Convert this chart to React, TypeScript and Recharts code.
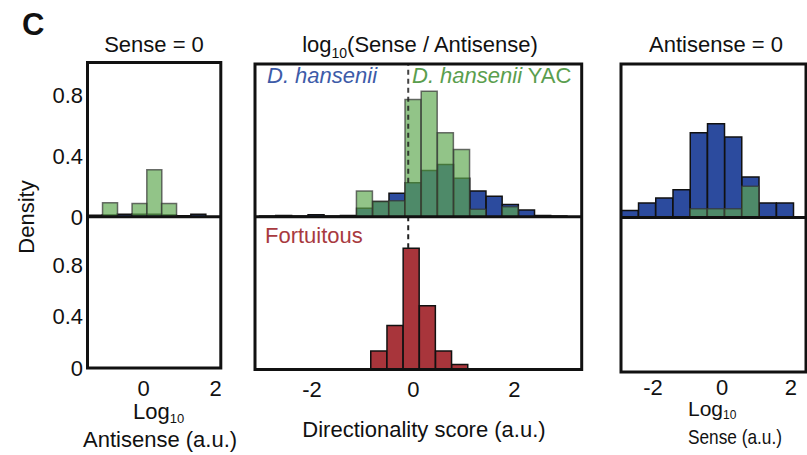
import { BarChart, Bar, XAxis, YAxis, ReferenceLine } from "recharts";

const FONT = '"Liberation Sans", Arial, Helvetica, sans-serif';
const BLUE = "#2c4b9e";
const GREEN = "#5fa850";
const RED = "#a8353b";
const INK = "#111";

// Sense = 0 panel (x = log10 antisense)
const leftBins = [-1.35, -0.94, -0.53, -0.12, 0.29, 0.7, 1.11, 1.52];
const leftWild = [0.012, 0.015, 0.02, 0.02, 0.02, 0.015, 0.01, 0.02];
const leftYac = [0, 0.095, 0, 0.09, 0.31, 0.09, 0, 0];

// log10(Sense / Antisense) panel
const midBins = [-2.88, -2.56, -2.24, -1.92, -1.6, -1.28, -0.96, -0.64, -0.32, 0, 0.32, 0.64, 0.96, 1.28, 1.6, 1.92, 2.24, 2.56, 2.88];
const midWild = [0.004, 0.008, 0.004, 0.012, 0.004, 0.008, 0.055, 0.1, 0.155, 0.225, 0.305, 0.345, 0.255, 0.17, 0.135, 0.08, 0.045, 0.008, 0.005];
const midYac = [0, 0, 0, 0, 0, 0, 0.17, 0.1, 0.105, 0.775, 0.83, 0.555, 0.445, 0.05, 0, 0.065, 0, 0, 0];
const fortBins = [-0.68, -0.36, -0.04, 0.28, 0.6, 0.92];
const fortValues = [0.144, 0.34, 0.93, 0.49, 0.144, 0.04];
const fortMedian = -0.1;

// Antisense = 0 panel (x = log10 sense)
const rightBins = [-2.67, -2.17, -1.67, -1.17, -0.67, -0.17, 0.33, 0.83, 1.33, 1.83];
const rightWild = [0.046, 0.095, 0.128, 0.183, 0.557, 0.617, 0.529, 0.267, 0.095, 0.095];
const rightYac = [0, 0, 0, 0, 0.057, 0.057, 0.057, 0.205, 0, 0];

const densityTicks = [0, 0.4, 0.8];

const leftRows = leftBins.map((x, i) => ({ x, wild: leftWild[i], yac: leftYac[i] }));
const midRows = midBins.map((x, i) => ({ x, wild: midWild[i], yac: midYac[i] }));
const fortRows = fortBins.map((x, i) => ({ x, fort: fortValues[i] }));
const rightRows = rightBins.map((x, i) => ({ x, wild: rightWild[i], yac: rightYac[i] }));

// median line only shows above the bar it sits on
const midUnderLine = midWild[midBins.indexOf(0)];
const fortUnderLine = fortValues[fortBins.indexOf(-0.04)];

type Geo = { x0: number; x1: number; top: number; mid: number; bot: number; dom: [number, number] };

const G_LEFT: Geo = { x0: 87.5, x1: 220.8, top: 62.5, mid: 216.7, bot: 368, dom: [-1.542, 2.161] };
const G_MID: Geo = { x0: 255, x1: 581.7, top: 64, mid: 216.7, bot: 369.5, dom: [-3.128, 3.328] };
const G_RIGHT: Geo = { x0: 621, x1: 806, top: 64, mid: 217.5, bot: 372, dom: [-2.928, 2.435] };

const TOP_MAX = 1.01;
const BOT_MAX = 1.17;

const tickStyle = { fontSize: 22, fill: INK, fontFamily: FONT };
const YW = 60;

function TopHalf({ g, rows, showY, dashed }: { g: Geo; rows: any[]; showY?: boolean; dashed?: boolean }) {
  const yw = showY ? YW : 0;
  const h = g.mid - g.top;
  return (
    <div style={{ position: "absolute", left: g.x0 - yw, top: g.top }}>
      <BarChart
        width={g.x1 - g.x0 + yw}
        height={h + 14}
        data={rows}
        margin={{ top: 0, right: 0, bottom: 14, left: 0 }}
        barCategoryGap={0}
        barGap="-100%"
      >
        <XAxis dataKey="x" type="number" domain={g.dom} hide allowDataOverflow />
        <YAxis
          type="number"
          domain={[0, TOP_MAX]}
          ticks={densityTicks}
          hide={!showY}
          width={yw}
          axisLine={false}
          tickLine={false}
          tickSize={0}
          tickMargin={5}
          tick={tickStyle}
          allowDataOverflow
        />
        <Bar dataKey="wild" fill={BLUE} stroke={INK} strokeWidth={1.5} isAnimationActive={false} />
        <Bar dataKey="yac" fill={GREEN} fillOpacity={0.68} stroke="#333" strokeOpacity={0.7} strokeWidth={1.5} isAnimationActive={false} />
        {dashed && (
          <ReferenceLine
            segment={[
              { x: fortMedian, y: midUnderLine },
              { x: fortMedian, y: TOP_MAX },
            ]}
            stroke="#222"
            strokeOpacity={0.85}
            strokeWidth={2}
            strokeDasharray="5 4"
          />
        )}
      </BarChart>
    </div>
  );
}

function BottomHalf({
  g,
  rows,
  xTicks,
  tickMargin,
  showY,
  children,
}: {
  g: Geo;
  rows: any[];
  xTicks: number[];
  tickMargin: number;
  showY?: boolean;
  children?: any;
}) {
  const yw = showY ? YW : 0;
  const h = g.bot - g.mid;
  return (
    <div style={{ position: "absolute", left: g.x0 - yw, top: g.mid }}>
      <BarChart
        width={g.x1 - g.x0 + yw}
        height={h + 40}
        data={rows}
        margin={{ top: 0, right: 0, bottom: 0, left: 0 }}
        barCategoryGap={0}
      >
        <XAxis
          dataKey="x"
          type="number"
          domain={g.dom}
          ticks={xTicks}
          height={40}
          axisLine={false}
          tickLine={false}
          tickSize={0}
          tickMargin={tickMargin}
          tick={tickStyle}
          allowDataOverflow
        />
        <YAxis
          type="number"
          domain={[0, BOT_MAX]}
          ticks={densityTicks}
          hide={!showY}
          width={yw}
          axisLine={false}
          tickLine={false}
          tickSize={0}
          tickMargin={5}
          tick={tickStyle}
          allowDataOverflow
        />
        {children}
      </BarChart>
    </div>
  );
}

function frame(g: Geo) {
  return (
    <g fill="none" stroke={INK} strokeWidth={3}>
      <rect x={g.x0} y={g.top} width={g.x1 - g.x0} height={g.bot - g.top} />
      <line x1={g.x0} x2={g.x1} y1={g.mid} y2={g.mid} />
    </g>
  );
}

export default function App() {
  return (
    <div
      style={{
        position: "absolute",
        left: 0,
        top: 0,
        width: 807,
        height: 455,
        background: "#fff",
        overflow: "hidden",
        fontFamily: FONT,
      }}
    >
      <TopHalf g={G_LEFT} rows={leftRows} showY />
      <BottomHalf g={G_LEFT} rows={leftRows} xTicks={[0, 2]} tickMargin={12} showY />

      <TopHalf g={G_MID} rows={midRows} dashed />
      <BottomHalf g={G_MID} rows={fortRows} xTicks={[-2, 0, 2]} tickMargin={12}>
        <Bar dataKey="fort" fill={RED} stroke={INK} strokeWidth={1.5} isAnimationActive={false} />
        <ReferenceLine
          segment={[
            { x: fortMedian, y: fortUnderLine },
            { x: fortMedian, y: BOT_MAX },
          ]}
          stroke="#222"
          strokeWidth={2}
          strokeDasharray="5 4"
        />
      </BottomHalf>

      <TopHalf g={G_RIGHT} rows={rightRows} />
      <BottomHalf g={G_RIGHT} rows={rightRows} xTicks={[-2, 0, 2]} tickMargin={7} />

      <svg
        width={807}
        height={455}
        style={{ position: "absolute", left: 0, top: 0, pointerEvents: "none" }}
        fontFamily={FONT}
        fill={INK}
      >
        {frame(G_LEFT)}
        {frame(G_MID)}
        {frame(G_RIGHT)}

        <text x={22} y={35} fontSize={31} fontWeight="bold">C</text>

        <text x={154} y={52} fontSize={22} textAnchor="middle">Sense = 0</text>
        <text x={420} y={52} fontSize={22} textAnchor="middle">
          log<tspan fontSize={14} dy={6}>10</tspan>
          <tspan dy={-6}>(Sense / Antisense)</tspan>
        </text>
        <text x={716} y={52} fontSize={22} textAnchor="middle">Antisense = 0</text>

        <text x={34} y={217} fontSize={22} textAnchor="middle" transform="rotate(-90 34 217)">Density</text>

        <text x={267} y={83} fontSize={22} fill="#3d5ba8" fontStyle="italic">D. hansenii</text>
        <text x={412} y={83} fontSize={22} fill="#5a9e4e">
          <tspan fontStyle="italic">D. hansenii</tspan> YAC
        </text>
        <text x={265} y={243} fontSize={22} fill="#a83a3f">Fortuitous</text>

        <text x={133} y={419} fontSize={22}>
          Log<tspan fontSize={13} dy={4}>10</tspan>
        </text>
        <text x={83} y={447} fontSize={22}>Antisense (a.u.)</text>

        <text x={424} y={437} fontSize={22} textAnchor="middle">Directionality score (a.u.)</text>

        <text x={688} y={416} fontSize={21}>
          Log<tspan fontSize={12} dy={3}>10</tspan>
        </text>
        <text x={688} y={444} fontSize={21} textLength={94} lengthAdjust="spacingAndGlyphs">Sense (a.u.)</text>
      </svg>
    </div>
  );
}
